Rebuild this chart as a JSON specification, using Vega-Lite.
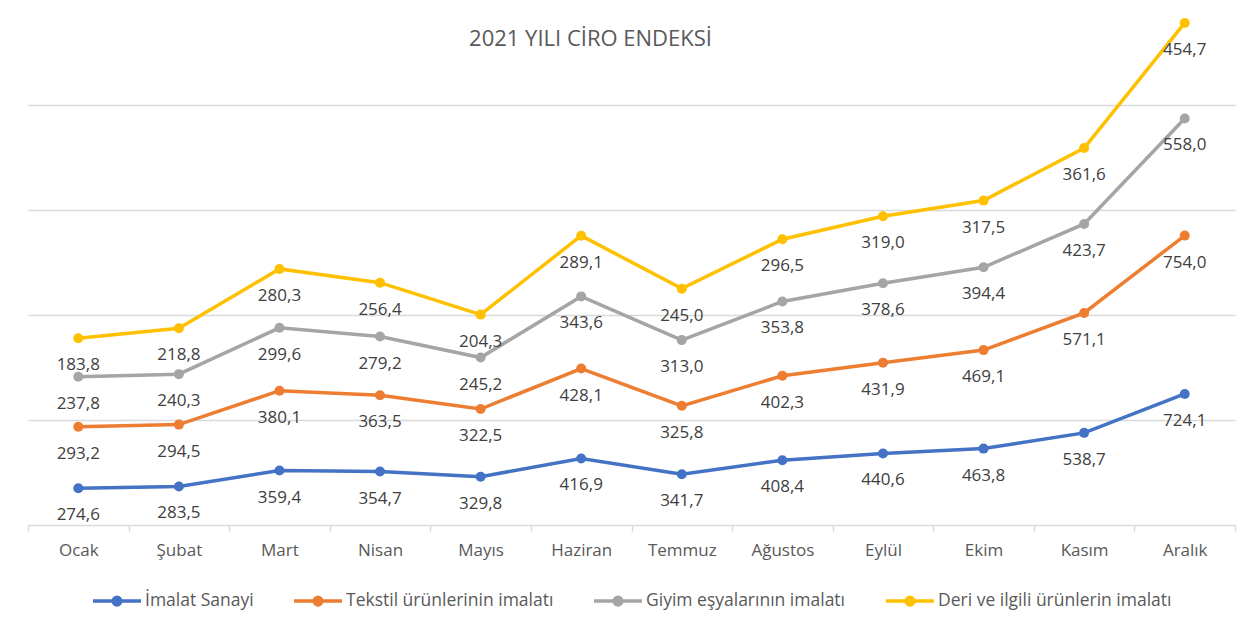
{
  "$schema": "https://vega.github.io/schema/vega-lite/v6.json",
  "width": 1207,
  "height": 525,
  "autosize": {"type": "none"},
  "padding": {"left": 28, "top": 0, "right": 25, "bottom": 104},
  "background": "white",
  "title": {
    "text": "2021 YILI CİRO ENDEKSİ",
    "font": "Open Sans",
    "fontSize": 22,
    "fontWeight": "normal",
    "color": "#595959",
    "anchor": "middle",
    "frame": "group",
    "baseline": "middle",
    "offset": -61,
    "dx": -41
  },
  "data": {
    "values": [
      {"ay": "Ocak", "seri": "İmalat Sanayi", "sira": 1, "value": 274.6},
      {"ay": "Şubat", "seri": "İmalat Sanayi", "sira": 1, "value": 283.5},
      {"ay": "Mart", "seri": "İmalat Sanayi", "sira": 1, "value": 359.4},
      {"ay": "Nisan", "seri": "İmalat Sanayi", "sira": 1, "value": 354.7},
      {"ay": "Mayıs", "seri": "İmalat Sanayi", "sira": 1, "value": 329.8},
      {"ay": "Haziran", "seri": "İmalat Sanayi", "sira": 1, "value": 416.9},
      {"ay": "Temmuz", "seri": "İmalat Sanayi", "sira": 1, "value": 341.7},
      {"ay": "Ağustos", "seri": "İmalat Sanayi", "sira": 1, "value": 408.4},
      {"ay": "Eylül", "seri": "İmalat Sanayi", "sira": 1, "value": 440.6},
      {"ay": "Ekim", "seri": "İmalat Sanayi", "sira": 1, "value": 463.8},
      {"ay": "Kasım", "seri": "İmalat Sanayi", "sira": 1, "value": 538.7},
      {"ay": "Aralık", "seri": "İmalat Sanayi", "sira": 1, "value": 724.1},
      {"ay": "Ocak", "seri": "Tekstil ürünlerinin imalatı", "sira": 2, "value": 293.2},
      {"ay": "Şubat", "seri": "Tekstil ürünlerinin imalatı", "sira": 2, "value": 294.5},
      {"ay": "Mart", "seri": "Tekstil ürünlerinin imalatı", "sira": 2, "value": 380.1},
      {"ay": "Nisan", "seri": "Tekstil ürünlerinin imalatı", "sira": 2, "value": 363.5},
      {"ay": "Mayıs", "seri": "Tekstil ürünlerinin imalatı", "sira": 2, "value": 322.5},
      {"ay": "Haziran", "seri": "Tekstil ürünlerinin imalatı", "sira": 2, "value": 428.1},
      {"ay": "Temmuz", "seri": "Tekstil ürünlerinin imalatı", "sira": 2, "value": 325.8},
      {"ay": "Ağustos", "seri": "Tekstil ürünlerinin imalatı", "sira": 2, "value": 402.3},
      {"ay": "Eylül", "seri": "Tekstil ürünlerinin imalatı", "sira": 2, "value": 431.9},
      {"ay": "Ekim", "seri": "Tekstil ürünlerinin imalatı", "sira": 2, "value": 469.1},
      {"ay": "Kasım", "seri": "Tekstil ürünlerinin imalatı", "sira": 2, "value": 571.1},
      {"ay": "Aralık", "seri": "Tekstil ürünlerinin imalatı", "sira": 2, "value": 754.0},
      {"ay": "Ocak", "seri": "Giyim eşyalarının imalatı", "sira": 3, "value": 237.8},
      {"ay": "Şubat", "seri": "Giyim eşyalarının imalatı", "sira": 3, "value": 240.3},
      {"ay": "Mart", "seri": "Giyim eşyalarının imalatı", "sira": 3, "value": 299.6},
      {"ay": "Nisan", "seri": "Giyim eşyalarının imalatı", "sira": 3, "value": 279.2},
      {"ay": "Mayıs", "seri": "Giyim eşyalarının imalatı", "sira": 3, "value": 245.2},
      {"ay": "Haziran", "seri": "Giyim eşyalarının imalatı", "sira": 3, "value": 343.6},
      {"ay": "Temmuz", "seri": "Giyim eşyalarının imalatı", "sira": 3, "value": 313.0},
      {"ay": "Ağustos", "seri": "Giyim eşyalarının imalatı", "sira": 3, "value": 353.8},
      {"ay": "Eylül", "seri": "Giyim eşyalarının imalatı", "sira": 3, "value": 378.6},
      {"ay": "Ekim", "seri": "Giyim eşyalarının imalatı", "sira": 3, "value": 394.4},
      {"ay": "Kasım", "seri": "Giyim eşyalarının imalatı", "sira": 3, "value": 423.7},
      {"ay": "Aralık", "seri": "Giyim eşyalarının imalatı", "sira": 3, "value": 558.0},
      {"ay": "Ocak", "seri": "Deri ve ilgili ürünlerin imalatı", "sira": 4, "value": 183.8},
      {"ay": "Şubat", "seri": "Deri ve ilgili ürünlerin imalatı", "sira": 4, "value": 218.8},
      {"ay": "Mart", "seri": "Deri ve ilgili ürünlerin imalatı", "sira": 4, "value": 280.3},
      {"ay": "Nisan", "seri": "Deri ve ilgili ürünlerin imalatı", "sira": 4, "value": 256.4},
      {"ay": "Mayıs", "seri": "Deri ve ilgili ürünlerin imalatı", "sira": 4, "value": 204.3},
      {"ay": "Haziran", "seri": "Deri ve ilgili ürünlerin imalatı", "sira": 4, "value": 289.1},
      {"ay": "Temmuz", "seri": "Deri ve ilgili ürünlerin imalatı", "sira": 4, "value": 245.0},
      {"ay": "Ağustos", "seri": "Deri ve ilgili ürünlerin imalatı", "sira": 4, "value": 296.5},
      {"ay": "Eylül", "seri": "Deri ve ilgili ürünlerin imalatı", "sira": 4, "value": 319.0},
      {"ay": "Ekim", "seri": "Deri ve ilgili ürünlerin imalatı", "sira": 4, "value": 317.5},
      {"ay": "Kasım", "seri": "Deri ve ilgili ürünlerin imalatı", "sira": 4, "value": 361.6},
      {"ay": "Aralık", "seri": "Deri ve ilgili ürünlerin imalatı", "sira": 4, "value": 454.7}
    ]
  },
  "transform": [
    {"stack": "value", "groupby": ["ay"], "sort": [{"field": "sira", "order": "ascending"}], "as": ["y0", "y1"]}
  ],
  "encoding": {
    "x": {
      "field": "ay",
      "type": "ordinal",
      "sort": ["Ocak", "Şubat", "Mart", "Nisan", "Mayıs", "Haziran", "Temmuz", "Ağustos", "Eylül", "Ekim", "Kasım", "Aralık"],
      "scale": {"type": "band", "paddingInner": 0, "paddingOuter": 0},
      "axis": {
        "title": null,
        "labelAngle": 0,
        "labelFont": "Open Sans",
        "labelFontSize": 17,
        "labelColor": "#595959",
        "labelPadding": 11,
        "domainColor": "#d9d9d9",
        "domainWidth": 1.5,
        "tickColor": "#d9d9d9",
        "tickWidth": 1.5,
        "tickSize": 6,
        "tickBand": "extent",
        "grid": false
      }
    },
    "y": {
      "field": "y1",
      "type": "quantitative",
      "scale": {"domain": [100, 2600], "zero": false, "nice": false},
      "axis": {
        "title": null,
        "labels": false,
        "ticks": false,
        "domain": false,
        "grid": true,
        "gridColor": "#d9d9d9",
        "gridWidth": 1.5,
        "values": [600, 1100, 1600, 2100]
      }
    }
  },
  "layer": [
    {
      "mark": {"type": "line", "strokeWidth": 3.5, "point": {"filled": true, "size": 100, "opacity": 1}},
      "encoding": {
        "color": {
          "field": "seri",
          "type": "nominal",
          "scale": {
            "domain": ["İmalat Sanayi", "Tekstil ürünlerinin imalatı", "Giyim eşyalarının imalatı", "Deri ve ilgili ürünlerin imalatı"],
            "range": ["#4472C4", "#ED7D31", "#A5A5A5", "#FFC000"]
          },
          "legend": {
            "title": null,
            "orient": "bottom",
            "direction": "horizontal",
            "symbolType": "M-1,0H1M-0.16,0A0.16,0.16,0,1,0,0.16,0A0.16,0.16,0,1,0,-0.16,0Z",
            "symbolSize": 2304,
            "symbolStrokeWidth": 3.5,
            "labelFont": "Open Sans",
            "labelFontSize": 17.5,
            "labelColor": "#595959",
            "labelOffset": 2,
            "labelLimit": 500,
            "columnPadding": 33,
            "offset": 17,
            "encode": {
              "symbols": {"update": {"fill": {"scale": "color", "field": "value"}, "fillOpacity": {"value": 1}}}
            }
          }
        },
        "detail": {"field": "seri"}
      }
    },
    {
      "mark": {"type": "text", "dy": 27, "font": "Open Sans", "fontSize": 17, "color": "#404040"},
      "encoding": {
        "text": {"field": "value", "type": "quantitative", "format": ".1f"}
      }
    }
  ],
  "config": {
    "view": {"stroke": null},
    "locale": {"number": {"decimal": ",", "thousands": ".", "grouping": [3], "currency": ["", " TL"]}},
    "legend": {"layout": {"bottom": {"anchor": "middle"}}}
  }
}
